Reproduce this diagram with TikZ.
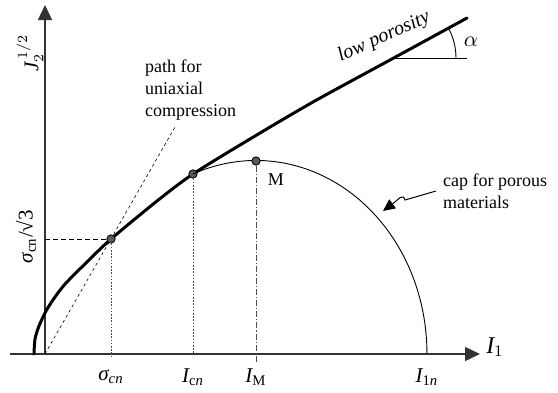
\documentclass[tikz,border=0pt]{standalone}
\usepackage{amsmath}
\usepackage{fontspec}
\setmainfont{Liberation Serif}
\usetikzlibrary{arrows.meta,calc}

\tikzset{
  axis/.style={line width=0.7pt,draw=black!80,-{Triangle[length=7.5pt,width=7pt]}},
  yieldline/.style={line width=1.5pt,line join=round,line cap=round},
  capline/.style={line width=0.45pt},
  guide/.style={line width=0.3pt,dash pattern=on 1.5pt off 1.5pt},
  dotted guide/.style={line width=0.3pt,dash pattern=on 0.8pt off 0.8pt,draw=black!70},
  dashdot guide/.style={line width=0.3pt,dash pattern=on 3pt off 1pt on 0.6pt off 1pt,draw=black!70},
  pt/.style={circle,draw=black,fill=black!65,line width=0.4pt,inner sep=0pt,minimum size=4.2pt},
  lab/.style={font=\fontsize{9}{11}\selectfont},
  ticklab/.style={font=\fontsize{10.5}{12}\selectfont},
}

\begin{document}
\begin{tikzpicture}[x=0.5pt,y=-0.5pt,lab]
\useasboundingbox (0,0) rectangle (558,392);
% axes (pixel-like coordinates, y downwards)
\coordinate (O) at (45,354);
\coordinate (xs) at (10,354);
\coordinate (xe) at (480,354);
\coordinate (ye) at (45,5);
\draw[axis] (xs) -- (xe);
\draw[axis] (O) -- (ye);
\node[font=\fontsize{12}{14}\selectfont] (I1) at (495,347) {$\textit{I}_{1}$};
\node[rotate=90,ticklab] (J2) at (30,53) {$\textit{J}_{2}^{\,1/2}$};
% yield surface for low porosity
\draw[yieldline] plot[smooth,tension=0.45] coordinates {(34,354) (35,339) (39,326) (46,311) (55,297) (66,283) (88,261) (111,239) (157,201) (193,174) (250,139) (313,102) (390,60) (467,18)};
% angle alpha
\coordinate (A) at (393,58);
\coordinate (Ae) at (467,58);
\draw[line width=0.45pt] (A) -- (Ae);
\draw[line width=0.45pt] ($(A)+(63,0)$) arc[start angle=0,end angle=-29,radius=63];
\node[ticklab] (alpha) at (471,42) {$\alpha$};
\node[rotate=24,font=\fontsize{10}{12}\selectfont] (lowp) at (384,37) {\textit{low porosity}};
% uniaxial compression path
\coordinate (pe) at (175,127);
\draw[guide] (O) -- (pe);
\node[align=left,anchor=west] (pathnote) at (138,90) {path for\\uniaxial\\compression};
% cap
\node[pt] (S) at (111,239) {};
\node[pt] (Ic) at (193,174) {};
\draw[capline] (Ic.center) arc[start angle=-111.6,end angle=0,x radius=171,y radius=193] coordinate (I1n);
\node[pt] (M) at (256,161) {};
\node (Mlab) at (276,180) {M};
\node[align=left,anchor=west] (capnote) at (436,191) {cap for porous\\materials};
\coordinate (k1) at (405,200);
\coordinate (tip) at (383,211);
\draw[line width=0.5pt,-{Triangle[length=6pt,width=5.5pt]}] (capnote.west) -- (k1) .. controls (403,193) and (399,199) .. (tip);
% guide lines and labels
\coordinate (Sy) at (45,239);
\draw[line width=0.35pt,dash pattern=on 2.5pt off 1.5pt] (Sy) -- (S);
\draw[dotted guide] (S) -- (111,357);
\draw[dotted guide] (Ic) -- (193,354);
\draw[dashdot guide] (M) -- (256,362);
\node[rotate=90,ticklab] (scn3) at (26,237) {\textit{σ}\textsubscript{cn}/√3};
\node[ticklab] (scn) at (111,377) {$\textit{σ}_{\textit{cn}}$};
\node[ticklab] (Icn) at (193,377) {$\textit{I}_{\text{c}\textit{n}}$};
\node[ticklab] (IM) at (256,377) {$\textit{I}_{\text{M}}$};
\node[ticklab] (I1nlab) at (427,377) {$\textit{I}_{\text{1}\textit{n}}$};
\end{tikzpicture}
\end{document}
